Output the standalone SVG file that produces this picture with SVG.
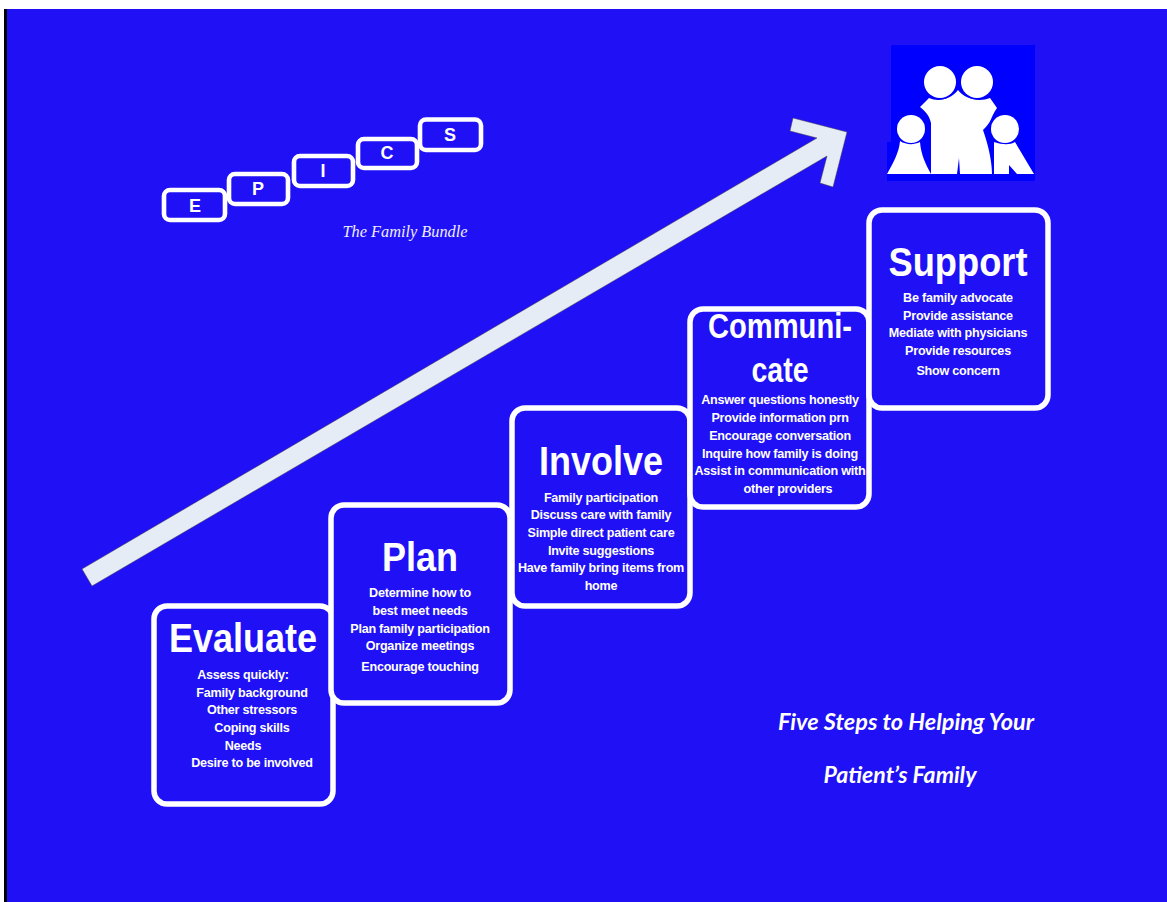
<svg xmlns="http://www.w3.org/2000/svg" width="1167" height="902" viewBox="0 0 1167 902">
<style>
.bx{fill:#2010f5;stroke:#fff;stroke-width:5.5}
.sm{fill:#2010f5;stroke:#fff;stroke-width:4.6}
text{font-family:"Liberation Sans",Arial,sans-serif;fill:#fff;text-anchor:middle}
.t{font-size:41px;font-weight:700}
.c{font-size:35px;font-weight:700}
.b{font-size:12.6px;font-weight:700;letter-spacing:-.24px;fill:#f6f6ff}
.l{font-size:18px;font-weight:700}
.i{font-family:Lato,sans-serif;font-style:italic;font-size:23px;font-weight:700}
</style>
<rect width="1167" height="902" fill="#fff"/>
<rect x="4" y="9" width="1163" height="893" fill="#2010f5"/>
<rect x="4" y="9" width="3" height="893" fill="#000"/>
<g id="connectors">
<path d="M82 569L817 138L790 131L793 118L847 132L833 187L820 183L827 156L92 586Z" fill="#e6ecf6" stroke="#444" stroke-width=".5"/>
</g>
<g id="family-icon">
<path d="M891 45H1035V181H887V142H891Z" fill="#0000ff"/>
<g fill="#fff">
<path d="M929 98C938 102 950 100 958 90C966 100 980 102 990 98L997 108C991 116 992 122 983 130C990 150 992 165 992 174L960 174L959 158L957 174L931 174L931 123C929 115 926 112 920 107Z"/>
<circle cx="940" cy="82" r="17.5" fill="#0000ff"/><circle cx="977" cy="82" r="17.5" fill="#0000ff"/>
<circle cx="940" cy="82" r="16"/><circle cx="977" cy="82" r="16"/>
<circle cx="911" cy="129" r="14"/>
<path d="M900 141C906 145 914 145 920 142C921 155 926 165 931 174L887 174C893 163 899 153 900 141Z"/>
<circle cx="1005" cy="129" r="14"/>
<path d="M994 142C1003 145 1010 145 1015 142L1034 174L1017 174L1009 165L1009 174L994 174Z"/>
</g>
</g>
<g id="epics">
<g id="epics-s"><rect x="420" y="119.500" width="61" height="30.500" rx="6" class="sm"/><text x="450" y="141" class="l">S</text></g>
<g id="epics-c"><rect x="358" y="139" width="59" height="29" rx="6" class="sm"/><text x="387" y="159" class="l">C</text></g>
<g id="epics-i"><rect x="294" y="156" width="59" height="30" rx="6" class="sm"/><text x="323" y="177" class="l">I</text></g>
<g id="epics-p"><rect x="229" y="174" width="59" height="30" rx="6" class="sm"/><text x="258" y="195" class="l">P</text></g>
<g id="epics-e"><rect x="164" y="190" width="61" height="30" rx="6" class="sm"/><text x="195" y="212" class="l">E</text></g>
<text x="405" y="237" textLength="125" lengthAdjust="spacingAndGlyphs" style="font-family:'Liberation Serif',serif;font-style:italic;font-size:16px;fill:#eeeeff">The Family Bundle</text>
</g>
<g id="step-evaluate">
<rect x="154" y="606" width="179" height="198" rx="13" class="bx"/>
<text x="243" y="652" class="t" textLength="148" lengthAdjust="spacingAndGlyphs">Evaluate</text>
<g class="b"><text x="243" y="679">Assess quickly:</text><text x="252" y="697">Family background</text><text x="252" y="714">Other stressors</text><text x="252" y="732">Coping skills</text><text x="243" y="750">Needs</text><text x="252" y="767">Desire to be involved</text></g>
</g>
<g id="step-plan">
<rect x="331" y="505" width="179" height="198" rx="13" class="bx"/>
<text x="420" y="571" class="t" textLength="76" lengthAdjust="spacingAndGlyphs">Plan</text>
<g class="b"><text x="420" y="597">Determine how to</text><text x="420" y="615">best meet needs</text><text x="420" y="633">Plan family participation</text><text x="420" y="650">Organize meetings</text><text x="420" y="671">Encourage touching</text></g>
</g>
<g id="step-involve">
<rect x="512" y="408" width="178" height="198" rx="13" class="bx"/>
<text x="601" y="475" class="t" textLength="124" lengthAdjust="spacingAndGlyphs">Involve</text>
<g class="b"><text x="601" y="501.500">Family participation</text><text x="601" y="518.500">Discuss care with family</text><text x="601" y="536.500">Simple direct patient care</text><text x="601" y="554.500">Invite suggestions</text><text x="601" y="571.500">Have family bring items from</text><text x="601" y="589.500">home</text></g>
</g>
<g id="step-communicate">
<rect x="690" y="309" width="179" height="198" rx="13" class="bx"/>
<text x="780" y="338" class="c" textLength="144" lengthAdjust="spacingAndGlyphs">Communi-</text><text x="780" y="382" class="c" textLength="57" lengthAdjust="spacingAndGlyphs">cate</text>
<g class="b"><text x="780" y="404">Answer questions honestly</text><text x="780" y="422">Provide information prn</text><text x="780" y="440">Encourage conversation</text><text x="780" y="458">Inquire how family is doing</text><text x="780" y="475">Assist in communication with</text><text x="788" y="493">other providers</text></g>
</g>
<g id="step-support">
<rect x="869" y="210" width="179" height="198" rx="13" class="bx"/>
<text x="958" y="276" class="t" textLength="139" lengthAdjust="spacingAndGlyphs">Support</text>
<g class="b"><text x="958" y="302">Be family advocate</text><text x="958" y="320">Provide assistance</text><text x="958" y="337">Mediate with physicians</text><text x="958" y="355">Provide resources</text><text x="958" y="375">Show concern</text></g>
</g>
<g id="caption"><text x="906" y="730" class="i" textLength="256" lengthAdjust="spacingAndGlyphs">Five Steps to Helping Your</text><text x="900" y="783" class="i" textLength="153" lengthAdjust="spacingAndGlyphs">Patient’s Family</text></g>
</svg>
